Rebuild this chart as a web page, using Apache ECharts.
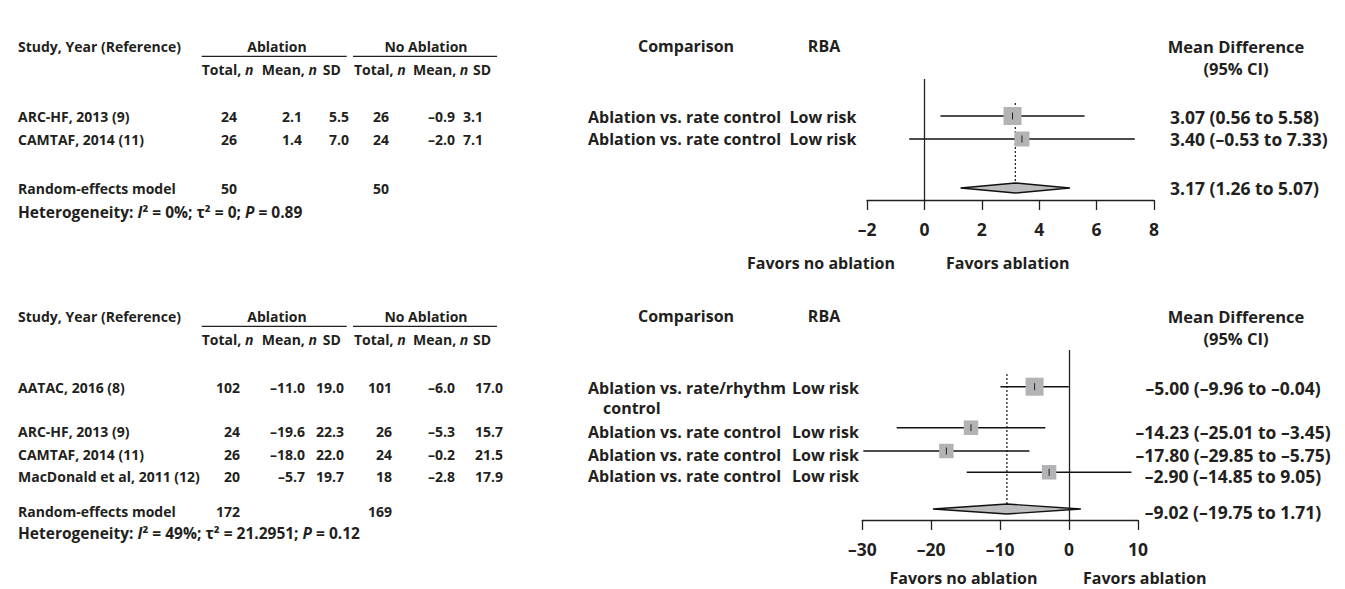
<!DOCTYPE html>
<html>
<head>
<meta charset="utf-8">
<script src="https://cdn.jsdelivr.net/npm/echarts@6/dist/echarts.min.js"></script>
<style>html,body{margin:0;padding:0;background:#fff}#c{width:1345px;height:589px}</style>
</head>
<body>
<div id="c"></div>
<script>
// ---------------- DATA ----------------
// Panel A
const aStudies = ['ARC-HF, 2013 (9)', 'CAMTAF, 2014 (11)'];
const aAblN = [24, 26];
const aAblMean = [2.1, 1.4];
const aAblSD = [5.5, 7.0];
const aCtlN = [26, 24];
const aCtlMean = [-0.9, -2.0];
const aCtlSD = [3.1, 7.1];
const aComparison = ['Ablation vs. rate control', 'Ablation vs. rate control'];
const aRBA = ['Low risk', 'Low risk'];
const aMD = [3.07, 3.40];
const aLo = [0.56, -0.53];
const aHi = [5.58, 7.33];
const aPooled = [3.17, 1.26, 5.07];      // est, lo, hi
const aTotals = [50, 50];
const aHet = ['0%', '0', '0.89'];         // I2, tau2, P
const aTicks = [-2, 0, 2, 4, 6, 8];

// Panel B
const bStudies = ['AATAC, 2016 (8)', 'ARC-HF, 2013 (9)', 'CAMTAF, 2014 (11)', 'MacDonald et al, 2011 (12)'];
const bAblN = [102, 24, 26, 20];
const bAblMean = [-11.0, -19.6, -18.0, -5.7];
const bAblSD = [19.0, 22.3, 22.0, 19.7];
const bCtlN = [101, 26, 24, 18];
const bCtlMean = [-6.0, -5.3, -0.2, -2.8];
const bCtlSD = [17.0, 15.7, 21.5, 17.9];
const bComparison = [['Ablation vs. rate/rhythm', 'control'], ['Ablation vs. rate control'], ['Ablation vs. rate control'], ['Ablation vs. rate control']];
const bRBA = ['Low risk', 'Low risk', 'Low risk', 'Low risk'];
const bMD = [-5.00, -14.23, -17.80, -2.90];
const bLo = [-9.96, -25.01, -29.85, -14.85];
const bHi = [-0.04, -3.45, -5.75, 9.05];
const bPooled = [-9.02, -19.75, 1.71];
const bTotals = [172, 169];
const bHet = ['49%', '21.2951', '0.12'];
const bTicks = [-30, -20, -10, 0, 10];

// ---------------- LAYOUT (pixels) ----------------
const FONT = '"Open Sans", "Noto Sans", sans-serif';
const INK = '#231f20';
const FS = 14;       // left table
const FS_MID = 16;   // comparison / RBA / favors / headers
const FS_CI = 17.5;  // CI column
const FS_TICK = 17.5;
const FS_HET = 15.5;
const L = {
  A: { off: 0, rowsText: [116.7, 139], rowsPlot: [116, 139], poolText: 188.3, poolPlot: 188, het: 211.7,
       grid: { left: 867, right: 1154, top: 79, bottom: 200 }, dot: [103, 183], box: [18, 15],
       favY: 263.3, favL: 895, favR: 946,
       col: { nA: 237, mA: 302, sA: 349, nC: 389, mC: 455, sC: 483, cmp: 588, rba: 789.5 },
       ciMode: 'left', ciX: 1170 },
  B: { off: 270, rowsText: [387.7, 431.7, 454.5, 476], rowsPlot: [386.7, 427.7, 451, 472.3], poolText: 511.7, poolPlot: 509, het: 533.3,
       grid: { left: 862.3, right: 1138, top: 350, bottom: 520 }, dot: [374, 505], box: [18, 14.5, 14.5, 14.5],
       favY: 577.8, favL: 1037.5, favR: 1083,
       col: { nA: 240, mA: 305, sA: 344, nC: 392, mC: 455, sC: 503, cmp: 588, rba: 792 },
       ciMode: 'center', ciX: 1233 }
};

const dash = s => String(s).replace(/-/g, '\u2013');
const f1 = v => dash(v.toFixed(1));
const f2 = v => dash(v.toFixed(2));

function richFor(fs) {
  return {
    n: { fontFamily: FONT, fontSize: fs, fontWeight: 'bold', fill: INK, color: INK, lineHeight: fs },
    i: { fontFamily: FONT, fontSize: fs, fontWeight: 'bold', fontStyle: 'italic', fill: INK, color: INK, lineHeight: fs }
  };
}

function T(x, y, text, align, fs, isRich) {
  fs = fs || FS;
  const st = {
    text: text, x: 0, y: 0, fill: INK,
    fontFamily: FONT, fontSize: fs, fontWeight: 'bold', lineHeight: fs,
    align: align || 'left', verticalAlign: 'middle',
    textAlign: align || 'left', textVerticalAlign: 'middle'
  };
  if (isRich) st.rich = richFor(fs);
  return { type: 'text', x: x, y: y, silent: true, style: st };
}
function Ln(x1, y1, x2, y2) {
  return { type: 'line', silent: true, shape: { x1: x1, y1: y1, x2: x2, y2: y2 }, style: { stroke: INK, lineWidth: 1.2 } };
}

const graphics = [];
function headers(off) {
  graphics.push(T(18, 46.7 + off, 'Study, Year (Reference)'));
  graphics.push(T(277, 46.5 + off, 'Ablation', 'center'));
  graphics.push(T(426, 46.5 + off, 'No Ablation', 'center'));
  graphics.push(Ln(201.7, 56.3 + off, 346.7, 56.3 + off));
  graphics.push(Ln(353, 56.3 + off, 497, 56.3 + off));
  graphics.push(T(201.7, 69 + off, '{n|Total, }{i|n}', 'left', FS, true));
  graphics.push(T(261.7, 69 + off, '{n|Mean, }{i|n}', 'left', FS, true));
  graphics.push(T(322.7, 69 + off, 'SD'));
  graphics.push(T(354, 69 + off, '{n|Total, }{i|n}', 'left', FS, true));
  graphics.push(T(413, 69 + off, '{n|Mean, }{i|n}', 'left', FS, true));
  graphics.push(T(473, 69 + off, 'SD'));
  graphics.push(T(686, 46 + off, 'Comparison', 'center', FS_MID));
  graphics.push(T(824, 46 + off, 'RBA', 'center', FS_MID));
  graphics.push(T(1236, 46 + off, 'Mean Difference', 'center', FS_MID + 0.5));
  graphics.push(T(1236, 68 + off, '(95% CI)', 'center', FS_MID + 0.5));
}

function panel(P, studies, nA, mA, sA, nC, mC, sC, cmp, rba, md, lo, hi, pooled, totals, het) {
  headers(P.off);
  const c = P.col;
  const ciAlign = P.ciMode === 'left' ? 'left' : 'center';
  studies.forEach((s, k) => {
    const y = P.rowsText[k];
    graphics.push(T(18, y, s));
    graphics.push(T(c.nA, y, String(nA[k]), 'right'));
    graphics.push(T(c.mA, y, f1(mA[k]), 'right'));
    graphics.push(T(c.sA, y, f1(sA[k]), 'right'));
    graphics.push(T(c.nC, y, String(nC[k]), 'right'));
    graphics.push(T(c.mC, y, f1(mC[k]), 'right'));
    graphics.push(T(c.sC, y, f1(sC[k]), 'right'));
    const cm = Array.isArray(cmp[k]) ? cmp[k] : [cmp[k]];
    graphics.push(T(c.cmp, y, cm[0], 'left', FS_MID));
    if (cm[1]) graphics.push(T(c.cmp + 15, y + 20.6, cm[1], 'left', FS_MID));
    graphics.push(T(c.rba, y, rba[k], 'left', FS_MID));
    const ci = f2(md[k]) + ' (' + f2(lo[k]) + ' to ' + f2(hi[k]) + ')';
    graphics.push(T(P.ciX, y, ci, ciAlign, FS_CI));
  });
  graphics.push(T(18, P.poolText, 'Random-effects model'));
  graphics.push(T(c.nA, P.poolText, String(totals[0]), 'right'));
  graphics.push(T(c.nC, P.poolText, String(totals[1]), 'right'));
  const pci = f2(pooled[0]) + ' (' + f2(pooled[1]) + ' to ' + f2(pooled[2]) + ')';
  graphics.push(T(P.ciX, P.poolText, pci, ciAlign, FS_CI));
  graphics.push(T(18, P.het, '{n|Heterogeneity: }{i|I}{n|\u00B2 = ' + het[0] + '; \u03C4\u00B2 = ' + het[1] + '; }{i|P}{n| = ' + het[2] + '}', 'left', FS_HET, true));
  graphics.push(T(P.favL, P.favY, 'Favors no ablation', 'right', FS_MID));
  graphics.push(T(P.favR, P.favY, 'Favors ablation', 'left', FS_MID));
}

panel(L.A, aStudies, aAblN, aAblMean, aAblSD, aCtlN, aCtlMean, aCtlSD, aComparison, aRBA, aMD, aLo, aHi, aPooled, aTotals, aHet);
panel(L.B, bStudies, bAblN, bAblMean, bAblSD, bCtlN, bCtlMean, bCtlSD, bComparison, bRBA, bMD, bLo, bHi, bPooled, bTotals, bHet);

// ---------------- FOREST PLOTS ----------------
function studyRender(params, api) {
  const est = api.value(0), lo = api.value(1), hi = api.value(2), y = api.value(3), sz = api.value(4);
  const pE = api.coord([est, y]), pL = api.coord([lo, y]), pH = api.coord([hi, y]);
  return {
    type: 'group',
    children: [
      { type: 'line', shape: { x1: pL[0], y1: pL[1], x2: pH[0], y2: pH[1] }, style: { stroke: '#111', lineWidth: 1.4 } },
      { type: 'rect', shape: { x: pE[0] - sz / 2, y: pE[1] - sz / 2, width: sz, height: sz }, style: { fill: '#b3b3b5' } },
      { type: 'line', shape: { x1: pE[0], y1: pE[1] - 3.5, x2: pE[0], y2: pE[1] + 3.5 }, style: { stroke: '#222', lineWidth: 1 } }
    ]
  };
}
function diamondRender(params, api) {
  const est = api.value(0), lo = api.value(1), hi = api.value(2), y = api.value(3);
  const pE = api.coord([est, y]), pL = api.coord([lo, y]), pH = api.coord([hi, y]);
  return {
    type: 'polygon',
    shape: { points: [[pL[0], pL[1]], [pE[0], pE[1] - 5], [pH[0], pH[1]], [pE[0], pE[1] + 5]] },
    style: { fill: '#bdbdbf', stroke: '#111', lineWidth: 1.4 }
  };
}

const grids = [], xAxes = [], yAxes = [], series = [];
function forest(idx, P, md, lo, hi, pooled, ticks) {
  const g = P.grid, h = g.bottom - g.top;
  grids.push({ left: g.left, top: g.top, width: g.right - g.left, height: h, containLabel: false });
  xAxes.push({
    gridIndex: idx, type: 'value', min: ticks[0], max: ticks[ticks.length - 1], interval: ticks[1] - ticks[0],
    position: 'bottom',
    axisLine: { show: true, onZero: false, lineStyle: { color: INK, width: 1.3 } },
    axisTick: { show: true, inside: false, length: 10, lineStyle: { color: INK, width: 1.3 } },
    axisLabel: { margin: 20, color: INK, fontFamily: FONT, fontSize: FS_TICK, fontWeight: 'bold', formatter: v => dash(v) },
    splitLine: { show: false }
  });
  yAxes.push({ gridIndex: idx, type: 'value', min: 0, max: h, inverse: true, show: false });
  series.push({
    type: 'custom', xAxisIndex: idx, yAxisIndex: idx, clip: false, silent: true,
    renderItem: studyRender,
    encode: { x: [0, 1, 2], y: 3 },
    data: md.map((v, k) => [v, lo[k], hi[k], P.rowsPlot[k] - g.top, P.box[k]]),
    z: 3
  });
  series.push({
    type: 'custom', xAxisIndex: idx, yAxisIndex: idx, clip: false, silent: true,
    renderItem: diamondRender,
    encode: { x: [0, 1, 2], y: 3 },
    data: [[pooled[0], pooled[1], pooled[2], P.poolPlot - g.top]],
    z: 4
  });
  series.push({
    type: 'line', xAxisIndex: idx, yAxisIndex: idx, silent: true, symbol: 'none',
    lineStyle: { color: '#222', width: 1.3, type: [2, 2] },
    data: [[pooled[0], P.dot[0] - g.top], [pooled[0], P.dot[1] - g.top]],
    z: 2,
    markLine: {
      silent: true, symbol: 'none', label: { show: false },
      lineStyle: { color: INK, type: 'solid', width: 1.3 },
      data: [{ xAxis: 0 }]
    }
  });
}
forest(0, L.A, aMD, aLo, aHi, aPooled, aTicks);
forest(1, L.B, bMD, bLo, bHi, bPooled, bTicks);

const chart = echarts.init(document.getElementById('c'), null, { renderer: 'svg' });
chart.setOption({
  animation: false,
  backgroundColor: '#fff',
  grid: grids, xAxis: xAxes, yAxis: yAxes, series: series,
  graphic: { elements: graphics }
});
</script>
</body>
</html>
